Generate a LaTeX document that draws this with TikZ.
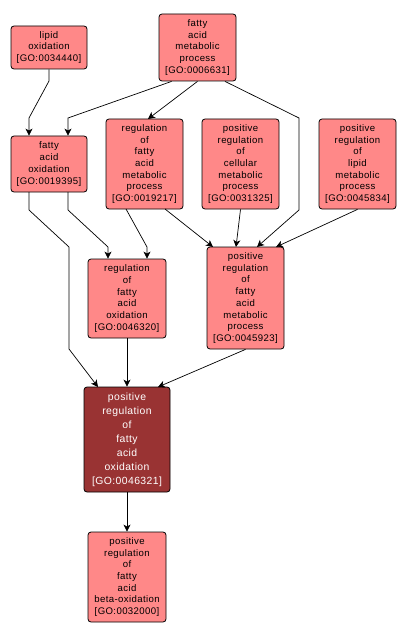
\documentclass[tikz,border=0pt]{standalone}
\usepackage{fontspec}
\setmainfont{Liberation Sans}[LetterSpace=4]
\usetikzlibrary{arrows.meta}
\definecolor{gofill}{HTML}{FF8888}
\definecolor{godark}{HTML}{993333}
\tikzset{
  goterm/.style={draw=black, line width=0.8pt, fill=gofill, rounded corners=3pt,
    inner sep=0pt, align=center, font=\fontsize{9.6}{11.7}\selectfont, text=black},
  goself/.style={goterm, fill=godark, text=white},
  isa/.style={draw=black, line width=0.7pt, -{Stealth[length=7pt,width=7pt,inset=2pt]}}
}
\begin{document}
\begin{tikzpicture}[x=1pt,y=-1pt]
\useasboundingbox (0,0) rectangle (406,639);
\node[goterm, minimum width=76pt, minimum height=43pt] (n34440) at (49,47.5) {lipid\\oxidation\\{[GO:0034440]}};
\node[goterm, minimum width=77pt, minimum height=67pt] (n6631) at (197.5,47.5) {fatty\\acid\\metabolic\\process\\{[GO:0006631]}};
\node[goterm, minimum width=76pt, minimum height=56pt] (n19395) at (49,164) {fatty\\acid\\oxidation\\{[GO:0019395]}};
\node[goterm, minimum width=77pt, minimum height=90pt] (n19217) at (144.5,164) {regulation\\of\\fatty\\acid\\metabolic\\process\\{[GO:0019217]}};
\node[goterm, minimum width=77pt, minimum height=90pt] (n31325) at (240.5,164) {positive\\regulation\\of\\cellular\\metabolic\\process\\{[GO:0031325]}};
\node[goterm, minimum width=77pt, minimum height=90pt] (n45834) at (357.5,164) {positive\\regulation\\of\\lipid\\metabolic\\process\\{[GO:0045834]}};
\node[goterm, minimum width=78pt, minimum height=79pt] (n46320) at (127,298.5) {regulation\\of\\fatty\\acid\\oxidation\\{[GO:0046320]}};
\node[goterm, minimum width=77pt, minimum height=102pt] (n45923) at (245.5,298) {positive\\regulation\\of\\fatty\\acid\\metabolic\\process\\{[GO:0045923]}};
\node[goself, minimum width=86pt, minimum height=105pt, font=\fontsize{10.4}{14}\selectfont] (n46321) at (127,439.5) {positive\\regulation\\of\\fatty\\acid\\oxidation\\{[GO:0046321]}};
\node[goterm, minimum width=78pt, minimum height=90pt] (n32000) at (127,577) {positive\\regulation\\of\\fatty\\acid\\beta-oxidation\\{[GO:0032000]}};

\coordinate (a1) at (49,81); \coordinate (a2) at (29,118);
\draw[isa] (n34440.south) -- (a1) -- (a2) -- (a2 |- n19395.north);
\coordinate (b1) at (68,118);
\draw[isa] (n6631.south west) ++(13,0) -- (b1) -- (b1 |- n19395.north);
\draw[isa] (n6631.south) -- (148,119);
\coordinate (c1) at (299,118); \coordinate (c2) at (299,210);
\draw[isa] (n6631.south) ++(27.5,0) -- (c1) -- (c2) -- (257,247);
\coordinate (d0) at (29,192); \coordinate (d1) at (29,210); \coordinate (d2) at (69,247); \coordinate (d3) at (69,349);
\draw[isa] (d0) -- (d1) -- (d2) -- (d3) -- (98,387);
\coordinate (e0) at (68,192); \coordinate (e1) at (68,210); \coordinate (e2) at (108,247);
\draw[isa] (e0) -- (e1) -- (e2) -- (e2 |- n46320.north);
\coordinate (f0) at (126,209); \coordinate (f1) at (147,247);
\draw[isa] (f0) -- (f1) -- (f1 |- n46320.north);
\draw[isa] (165,209) -- (213,247);
\draw[isa] (n31325.south) -- (236,247);
\draw[isa] (n45834.south) -- (276,247);
\draw[isa] (n46320.south) -- (n46321.north);
\draw[isa] (n45923.south) -- (158,387);
\draw[isa] (n46321.south) -- (n32000.north);
\end{tikzpicture}
\end{document}
